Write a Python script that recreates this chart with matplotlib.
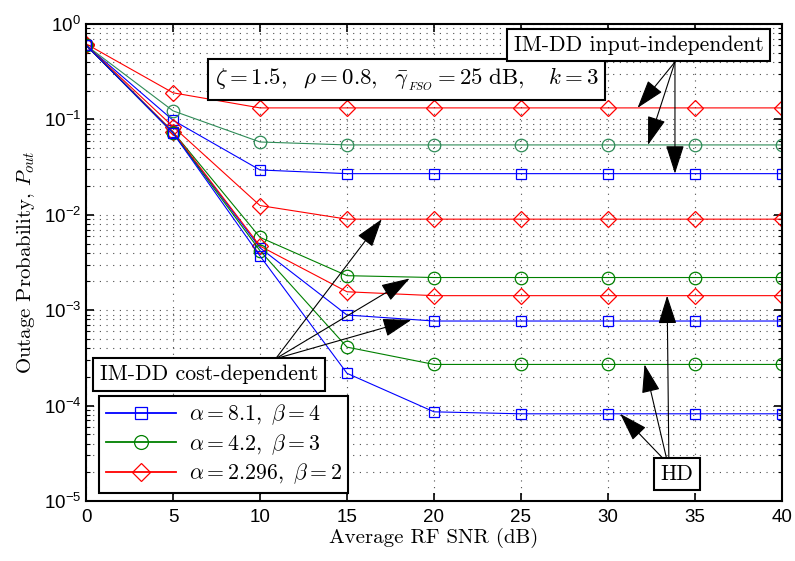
import numpy as np
import matplotlib
matplotlib.use('Agg')
import matplotlib.pyplot as plt
from matplotlib.ticker import FixedLocator, LogLocator, NullFormatter, FuncFormatter

plt.rcParams['mathtext.fontset'] = 'cm'
plt.rcParams['font.family'] = 'Liberation Sans'

# ---- data ----
snr = [0, 5, 10, 15, 20, 25, 30, 35, 40]

# alpha=8.1, beta=4 (blue)
blue_indep = [0.60, 0.098, 0.0295, 0.027, 0.027, 0.027, 0.027, 0.027, 0.027]
blue_cost = [0.60, 0.073, 0.0045, 0.00089, 0.00077, 0.00077, 0.00077, 0.00077, 0.00077]
blue_hd = [0.60, 0.072, 0.0037, 0.000218, 8.6e-5, 8.2e-5, 8.2e-5, 8.2e-5, 8.2e-5]

# alpha=4.2, beta=3 (green)
green_indep = [0.60, 0.123, 0.058, 0.054, 0.054, 0.054, 0.054, 0.054, 0.054]
green_cost = [0.60, 0.074, 0.0058, 0.0023, 0.0022, 0.0022, 0.0022, 0.0022, 0.0022]
green_hd = [0.60, 0.072, 0.0042, 0.00041, 0.00027, 0.00027, 0.00027, 0.00027, 0.00027]

# alpha=2.296, beta=2 (red)
red_indep = [0.62, 0.19, 0.132, 0.132, 0.132, 0.132, 0.132, 0.132, 0.132]
red_cost = [0.60, 0.084, 0.0125, 0.009, 0.009, 0.009, 0.009, 0.009, 0.009]
red_hd = [0.60, 0.074, 0.0047, 0.00156, 0.00142, 0.00142, 0.00142, 0.00142, 0.00142]

labels = [r'$\alpha=8.1,\ \beta=4$', r'$\alpha=4.2,\ \beta=3$', r'$\alpha=2.296,\ \beta=2$']

serif = 'cmr10'
fs = 15
bfs = 15.7

fig = plt.figure(figsize=(7.95, 5.61), dpi=100)
ax = fig.add_axes([0.1082, 0.107, 0.8754, 0.8502])

lw = 0.8
ms = dict(markerfacecolor='none', markeredgewidth=0.9)
blue = '#0000ff'
green = '#008000'
teal = '#2e8b57'
red = '#ff0000'

ax.plot(snr, blue_indep, 's-', color=blue, lw=lw, ms=7.5, **ms)
ax.plot(snr, green_indep, 'o-', color=teal, lw=lw, ms=9, **ms)
ax.plot(snr, red_indep, 'D-', color=red, lw=lw, ms=8, **ms)
ax.plot(snr, red_cost, 'D-', color=red, lw=lw, ms=8, **ms)
ax.plot(snr, green_cost, 'o-', color=green, lw=lw, ms=9, **ms)
ax.plot(snr, blue_cost, 's-', color=blue, lw=lw, ms=7.5, **ms)
ax.plot(snr, red_hd, 'D-', color=red, lw=lw, ms=8, **ms)
ax.plot(snr, green_hd, 'o-', color=green, lw=lw, ms=9, **ms)
ax.plot(snr, blue_hd, 's-', color=blue, lw=lw, ms=7.5, **ms)

ax.set_yscale('log')
ax.set_xlim(0, 40)
ax.set_ylim(1e-5, 1)
ax.xaxis.set_major_locator(FixedLocator(snr))
ax.yaxis.set_major_locator(LogLocator(base=10, numticks=10))
ax.yaxis.set_minor_locator(LogLocator(base=10, subs=np.arange(2, 10), numticks=10))
ax.yaxis.set_minor_formatter(NullFormatter())
ax.yaxis.set_major_formatter(FuncFormatter(
    lambda v, p: r'$\mathregular{10^{%d}}$' % int(round(np.log10(v)))))
ax.tick_params(which='both', direction='in', top=True, right=True, labelsize=13.5)
ax.tick_params(which='major', length=6, width=1.2)
ax.tick_params(which='minor', length=3, width=0.8)
ax.tick_params(axis='x', pad=6)
for s in ax.spines.values():
    s.set_linewidth(1.5)

ax.grid(True, which='major', axis='x', ls=(0, (1, 5)), color='0.3', lw=0.8)
ax.grid(True, which='both', axis='y', ls=(0, (1, 5)), color='0.3', lw=0.8)

ax.set_xlabel('Average RF SNR (dB)', family=serif, fontsize=fs, labelpad=1)
ax.set_ylabel(r'Outage Probability, $P_{out}$', family=serif, fontsize=fs, labelpad=5)

# legend built from proxy lines
h1, = ax.plot([], [], 's-', color=blue, lw=1.3, ms=8, **ms)
h2, = ax.plot([], [], 'o-', color=green, lw=1.3, ms=10, **ms)
h3, = ax.plot([], [], 'D-', color=red, lw=1.3, ms=9, **ms)
leg = ax.legend([h1, h2, h3], labels, loc='lower left', bbox_to_anchor=(0.019, 0.017),
                borderaxespad=0, fontsize=bfs, handlelength=3.2, fancybox=False,
                edgecolor='k', framealpha=1, borderpad=0.3, labelspacing=0.22,
                handletextpad=0.6)
leg.get_frame().set_linewidth(1.5)

box = dict(boxstyle='square,pad=0.3', fc='white', ec='k', lw=1.5)
arr = dict(arrowstyle='-|>,head_length=1.0,head_width=0.32', color='k', lw=0.8,
           mutation_scale=18, shrinkA=0, shrinkB=0)

ax.text(7.4, 0.26, r'$\zeta=1.5,\ \ \rho=0.8,\ \ \bar{\gamma}_{_{FSO}}=25\ \mathrm{dB},\ \ \ k=3$',
        fontsize=16.5, bbox=box, va='center', ha='left')

# IM-DD input-independent
ax.text(24.6, 0.60, 'IM-DD input-independent', family=serif, fontsize=bfs,
        bbox=box, ha='left', va='center', zorder=5)
for (xx, yy) in [(31.7, 0.132), (32.3, 0.054), (33.85, 0.027)]:
    ax.annotate('', xy=(xx, yy), xytext=(33.85, 0.40), arrowprops=arr, zorder=4)

# IM-DD cost-dependent
ax.text(0.8, 0.000212, 'IM-DD cost-dependent', family=serif, fontsize=bfs,
        bbox=box, ha='left', va='center', zorder=5)
for (xx, yy) in [(17.0, 0.009), (18.6, 0.00215), (18.7, 0.00079)]:
    ax.annotate('', xy=(xx, yy), xytext=(10.9, 0.00031), arrowprops=arr, zorder=4)

# HD
ax.text(33.0, 1.92e-5, 'HD', family=serif, fontsize=bfs, bbox=box,
        ha='left', va='center', zorder=5)
for (xx, yy), x0 in zip([(30.7, 8.2e-5), (32.1, 0.00027), (33.4, 0.00142)], [33.3, 33.4, 33.5]):
    ax.annotate('', xy=(xx, yy), xytext=(x0, 2.63e-5), arrowprops=arr, zorder=4)

fig.savefig('out.png', dpi=100)
